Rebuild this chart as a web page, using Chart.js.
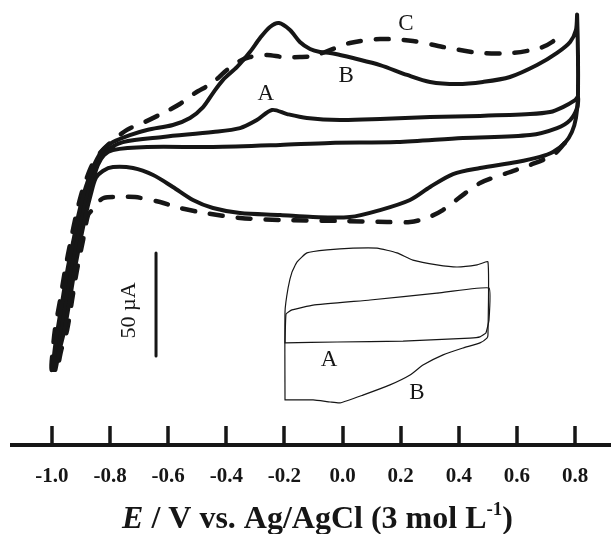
<!DOCTYPE html>
<html>
<head>
<meta charset="utf-8">
<script src="https://cdn.jsdelivr.net/npm/chart.js@4.4.0/dist/chart.umd.min.js"></script>
<style>
    html, body { margin: 0; padding: 0; background: #fff; }
    #wrap { position: relative; width: 611px; height: 534px; }
</style>
</head>
<body>
<div id="wrap"><canvas id="cvChart"></canvas></div>
<script>
// ============================================
// DATA  (E in V, I in µA, zero of I arbitrary)
// ============================================
const tickValues = [-1.0, -0.8, -0.6, -0.4, -0.2, 0.0, 0.2, 0.4, 0.6, 0.8];

// curve B : large solid CV
const bigUpE = [-0.998, -0.991, -0.981, -0.964, -0.947, -0.926, -0.909, -0.892, -0.873, -0.852, -0.825, -0.790,
    -0.732, -0.673, -0.584, -0.525, -0.480, -0.446, -0.412, -0.363, -0.319, -0.284,
    -0.250, -0.219, -0.181, -0.147, -0.112, -0.078, -0.043, -0.009, 0.036, 0.129,
    0.222, 0.301, 0.394, 0.483, 0.576, 0.669, 0.738, 0.783, 0.803, 0.807];
const bigUpI = [-92.2, -82.5, -72.8, -58.3, -43.7, -29.1, -17.0, -7.3, 1.0, 8.3, 14.6, 18.4,
    21.8, 24.3, 26.7, 30.1, 35.4, 42.2, 48.5, 54.9, 62.1, 68.9,
    74.3, 76.2, 72.8, 67.0, 63.6, 62.1, 61.7, 60.7, 59.2, 55.8,
    51.0, 47.6, 46.6, 47.6, 50.0, 55.8, 61.7, 67.0, 72.8, 80.1];
const bigDownE = [0.810, 0.803, 0.789, 0.765, 0.724, 0.679, 0.600, 0.473, 0.380, 0.301,
    0.232, 0.129, 0.025, -0.102, -0.215, -0.353, -0.446, -0.515, -0.584, -0.652,
    -0.721, -0.790, -0.825, -0.849, -0.867, -0.884, -0.902, -0.922, -0.939, -0.957,
    -0.974, -0.988];
const bigDownI = [41.3, 30.1, 23.3, 18.0, 13.6, 11.2, 8.7, 5.8, 2.9, -3.4,
    -9.7, -14.6, -18.0, -18.0, -17.0, -16.0, -13.6, -9.7, -3.4, 2.4,
    5.8, 6.3, 4.4, 1.0, -7.3, -17.0, -29.1, -43.7, -58.3, -72.8,
    -82.5, -92.2];

// curve A : small solid CV
const smallUpE = [-0.995, -0.986, -0.973, -0.956, -0.939, -0.918, -0.901, -0.884, -0.866, -0.842,
    -0.818, -0.756, -0.618, -0.446, -0.353, -0.295, -0.243, -0.191, -0.123, -0.009,
    0.129, 0.301, 0.473, 0.645, 0.714, 0.758, 0.800, 0.810];
const smallUpI = [-92.2, -82.5, -72.8, -58.3, -43.7, -29.1, -17.0, -7.3, 1.0, 8.3,
    13.6, 18.4, 20.9, 23.3, 25.2, 29.1, 34.0, 32.0, 30.1, 29.1,
    29.6, 30.6, 31.1, 32.0, 33.0, 35.4, 38.8, 40.3];
const smallDownE = [0.807, 0.783, 0.738, 0.645, 0.414, 0.187, -0.043, -0.215, -0.446, -0.673,
    -0.790, -0.821, -0.842, -0.859, -0.875, -0.893, -0.910, -0.930, -0.948, -0.965,
    -0.980, -0.991];
const smallDownI = [35.0, 29.1, 25.2, 21.8, 20.4, 18.4, 18.0, 17.0, 16.0, 16.0,
    14.6, 12.1, 7.3, 0.0, -7.3, -17.0, -29.1, -43.7, -58.3, -72.8,
    -82.5, -92.2];

// curve C : dashed CV
const dashDownE = [0.765, 0.724, 0.645, 0.566, 0.473, 0.404, 0.345, 0.290, 0.232, 0.153,
    0.001, -0.215, -0.353, -0.474, -0.560, -0.628, -0.714, -0.776, -0.821, -0.845,
    -0.862, -0.876, -0.893, -0.914, -0.931, -0.948, -0.968, -0.985];
const dashDownI = [18.0, 12.1, 7.3, 3.4, -1.5, -8.3, -14.6, -18.4, -20.4, -20.4,
    -19.9, -19.4, -18.4, -16.0, -13.6, -10.7, -8.3, -8.3, -8.7, -11.2,
    -14.6, -17.0, -29.1, -43.7, -58.3, -72.8, -82.5, -92.2];
const dashUpE = [-1.001, -0.997, -0.990, -0.972, -0.955, -0.935, -0.917, -0.900, -0.883, -0.862,
    -0.835, -0.800, -0.742, -0.680, -0.618, -0.560, -0.508, -0.449, -0.398, -0.353,
    -0.319, -0.260, -0.205, -0.147, -0.102, -0.033, 0.025, 0.129, 0.242, 0.345,
    0.473, 0.586, 0.679, 0.721, 0.755];
const dashUpI = [-92.2, -82.5, -72.8, -58.3, -43.7, -29.1, -17.0, -7.3, 0.0, 7.3,
    13.1, 18.0, 24.3, 28.2, 32.5, 36.9, 42.2, 47.1, 53.4, 57.8,
    59.7, 60.7, 59.7, 59.7, 60.2, 63.6, 66.5, 68.4, 67.5, 64.6,
    61.7, 61.7, 64.1, 67.0, 71.8];

// inset (own axes)
const insetOuterE = [-0.200, -0.200, -0.185, -0.166, -0.141, -0.093, 0.005, 0.132, 0.249, 0.346,
    0.424, 0.541, 0.639, 0.737, 0.790, 0.790, 0.785, 0.751, 0.668, 0.571,
    0.473, 0.410, 0.312, 0.180, 0.068, 0.020, -0.063, -0.200];
const insetOuterI = [-23.3, 6.0, 14.0, 19.3, 22.7, 25.7, 26.7, 27.3, 27.3, 25.7,
    23.3, 21.7, 21.0, 21.7, 22.7, -1.7, -2.7, -4.3, -6.0, -8.3,
    -11.7, -15.0, -18.3, -21.7, -24.3, -24.0, -23.3, -23.3];
const insetInnerE = [-0.200, -0.195, -0.166, -0.063, 0.215, 0.541, 0.795, 0.795, 0.780, 0.751,
    0.702, 0.376, 0.054, -0.200];
const insetInnerI = [-4.3, 5.3, 6.7, 8.3, 10.0, 12.3, 14.0, 3.3, -1.0, -2.3,
    -2.7, -3.7, -4.0, -4.3];

// 50 µA scale bar
const barE = [-0.642, -0.642];
const barI = [-35.4, -85.4];

// text labels
const curveLabels = [
    { text: 'A', e: -0.264, i: 41.7, inset: false },
    { text: 'B', e: 0.012, i: 50.5, inset: false },
    { text: 'C', e: 0.218, i: 75.7, inset: false },
    { text: 'A', e: 0.015, i: -10.0, inset: true },
    { text: 'B', e: 0.444, i: -21.0, inset: true }
];

// ============================================
// HELPERS
// ============================================
const INK = '#161616';
const SERIF = "'Liberation Serif', 'Times New Roman', serif";

function toPoints(e, i) {
    return e.map((v, k) => ({ x: v, y: i[k] }));
}

// ticks pointing into the plot
const inwardTicks = {
    id: 'inwardTicks',
    afterDraw(chart) {
        const { ctx, chartArea } = chart;
        const xs = chart.scales.x;
        ctx.save();
        ctx.strokeStyle = INK;
        ctx.lineWidth = 3.5;
        tickValues.forEach(v => {
            const px = Math.round(xs.getPixelForValue(v));
            ctx.beginPath();
            ctx.moveTo(px, chartArea.bottom);
            ctx.lineTo(px, chartArea.bottom - 19);
            ctx.stroke();
        });
        ctx.restore();
    }
};

// axis title with italic E and superscript
const axisTitle = {
    id: 'axisTitle',
    afterDraw(chart) {
        const { ctx, chartArea } = chart;
        const parts = [
            { t: 'E', font: `italic bold 32px ${SERIF}`, dy: 0 },
            { t: ' / V vs. Ag/AgCl (3 mol L', font: `bold 32px ${SERIF}`, dy: 0 },
            { t: '-1', font: `bold 19px ${SERIF}`, dy: -13 },
            { t: ')', font: `bold 32px ${SERIF}`, dy: 0 }
        ];
        ctx.save();
        ctx.fillStyle = INK;
        ctx.textBaseline = 'alphabetic';
        ctx.textAlign = 'left';
        let total = 0;
        parts.forEach(p => { ctx.font = p.font; p.w = ctx.measureText(p.t).width; total += p.w; });
        let x = (chartArea.left + chartArea.right) / 2 + 6 - total / 2;
        const base = chartArea.bottom + 83;
        parts.forEach(p => {
            ctx.font = p.font;
            ctx.fillText(p.t, x, base + p.dy);
            x += p.w;
        });
        ctx.restore();
    }
};

// curve letters and scale bar text
const textLabels = {
    id: 'textLabels',
    afterDatasetsDraw(chart) {
        const { ctx, scales } = chart;
        ctx.save();
        ctx.fillStyle = INK;
        ctx.textAlign = 'center';
        ctx.textBaseline = 'middle';
        ctx.font = `23px ${SERIF}`;
        curveLabels.forEach(l => {
            const sx = l.inset ? scales.x2 : scales.x;
            const sy = l.inset ? scales.y2 : scales.y;
            ctx.fillText(l.text, sx.getPixelForValue(l.e), sy.getPixelForValue(l.i));
        });
        // "50 µA" beside the bar, rotated
        const bx = scales.x.getPixelForValue(barE[0]) - 27;
        const by = scales.y.getPixelForValue((barI[0] + barI[1]) / 2) + 6;
        ctx.translate(bx, by);
        ctx.rotate(-Math.PI / 2);
        ctx.font = `22px ${SERIF}`;
        ctx.fillText('50 µA', 0, 0);
        ctx.restore();
    }
};

// ============================================
// CHART
// ============================================
function lineSet(points, extra) {
    return Object.assign({
        data: points,
        showLine: true,
        borderColor: INK,
        borderWidth: 4,
        pointRadius: 0,
        tension: 0.3,
        fill: false,
        borderCapStyle: 'round',
        borderJoinStyle: 'round'
    }, extra || {});
}

document.addEventListener('DOMContentLoaded', () => {
    const ctx = document.getElementById('cvChart');
    new Chart(ctx, {
        type: 'scatter',
        data: {
            datasets: [
                lineSet(toPoints(bigUpE.concat(bigDownE), bigUpI.concat(bigDownI))),
                lineSet(toPoints(smallUpE.concat(smallDownE), smallUpI.concat(smallDownI))),
                lineSet(toPoints(dashDownE.concat(dashUpE), dashDownI.concat(dashUpI)), {
                    borderDash: [13, 15], borderWidth: 4.5, borderCapStyle: 'round'
                }),
                lineSet(toPoints(barE, barI), { borderWidth: 3, tension: 0, borderCapStyle: 'butt' }),
                lineSet(toPoints(insetOuterE, insetOuterI), {
                    xAxisID: 'x2', yAxisID: 'y2', borderWidth: 1.2, tension: 0.15
                }),
                lineSet(toPoints(insetInnerE, insetInnerI), {
                    xAxisID: 'x2', yAxisID: 'y2', borderWidth: 1.2, tension: 0.1
                })
            ]
        },
        options: {
            responsive: true,
            maintainAspectRatio: false,
            animation: false,
            layout: { padding: { left: 12, right: 0, top: 0, bottom: 0 } },
            plugins: {
                legend: { display: false },
                tooltip: { enabled: false }
            },
            scales: {
                x: {
                    type: 'linear',
                    position: 'bottom',
                    min: -1.1376,
                    max: 0.9236,
                    afterBuildTicks: (scale) => {
                        scale.ticks = tickValues.map(v => ({ value: v }));
                    },
                    afterFit: (scale) => { scale.height = 89; },
                    border: { display: true, color: INK, width: 4 },
                    grid: { display: false, drawTicks: false },
                    ticks: {
                        autoSkip: false,
                        maxRotation: 0,
                        padding: 19,
                        color: INK,
                        font: { family: SERIF, weight: 'bold', size: 21 },
                        callback: (v) => Number(v).toFixed(1)
                    }
                },
                y: { display: false, min: -128.64, max: 87.38 },
                x2: { type: 'linear', display: false, min: -1.5317, max: 1.3902 },
                y2: { display: false, min: -38.33, max: 110 }
            }
        },
        plugins: [inwardTicks, axisTitle, textLabels]
    });
});
</script>
</body>
</html>
